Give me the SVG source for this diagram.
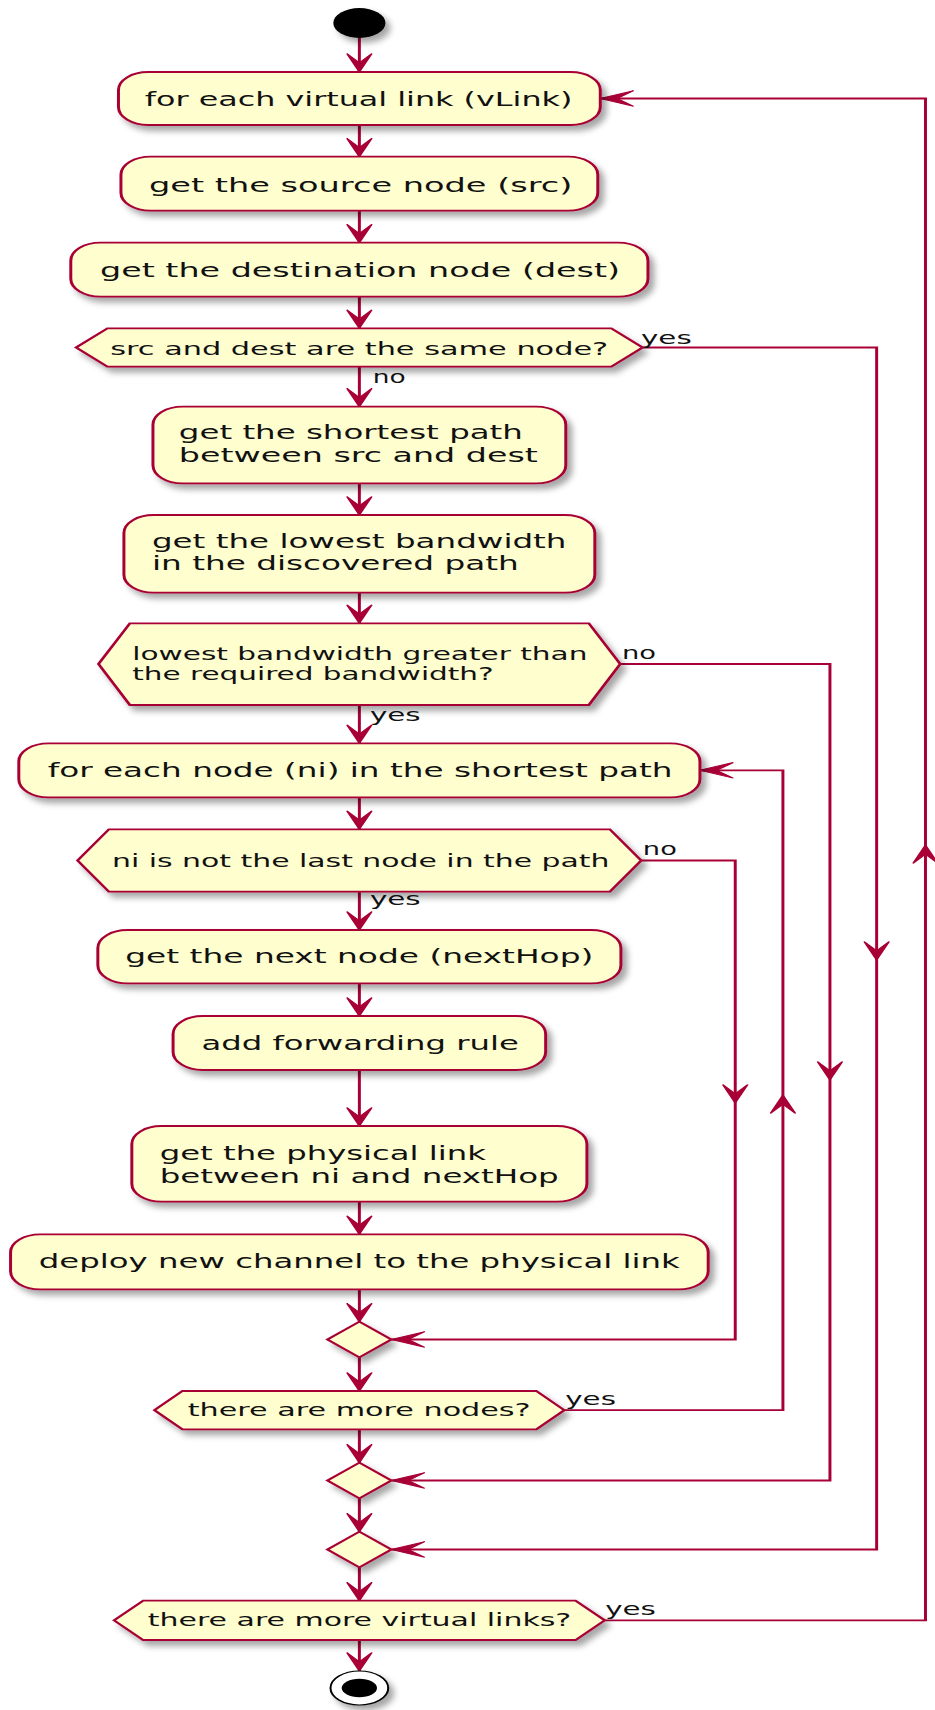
<svg xmlns="http://www.w3.org/2000/svg" xmlns:xlink="http://www.w3.org/1999/xlink" width="935" height="1710" viewBox="0 0 935 1710">
  <defs>
    <style>
      .box { fill:#FEFECE; stroke:#A80036; stroke-width:1.8; filter:url(#sh); }
      .ln { fill:none; stroke:#A80036; stroke-width:1.8; }
      .ah { fill:#A80036; stroke:#A80036; stroke-width:1; stroke-linejoin:miter; }
      .t { font-family:"DejaVu Sans", "Liberation Sans", sans-serif; font-size:19.5px; fill:#111; }
      .d { font-family:"DejaVu Sans", "Liberation Sans", sans-serif; font-size:18px; fill:#111; }
    </style>
    <filter id="sh" x="-20%" y="-30%" width="150%" height="170%">
      <feGaussianBlur in="SourceAlpha" stdDeviation="1.8 3"/>
      <feOffset dx="3" dy="5" result="b"/>
      <feFlood flood-color="#000" flood-opacity="0.35"/>
      <feComposite in2="b" operator="in"/>
      <feMerge><feMergeNode/><feMergeNode in="SourceGraphic"/></feMerge>
    </filter>
    <!-- arrowheads, tip at the origin -->
    <path id="adn" class="ah" d="M0,0 L-7.6,-18.4 L0,-9.2 L7.6,-18.4 Z"/>
    <path id="aup" class="ah" d="M0,0 L-7.6,18.4 L0,9.2 L7.6,18.4 Z"/>
    <path id="alt" class="ah" d="M0,0 L20.2,-7.8 L10.1,0 L20.2,7.8 Z"/>
  </defs>
  <rect width="935" height="1710" fill="#fff"/>
  <g transform="scale(1.65 1)">
    <g id="connectors">
      <path class="ln" d="M217.8,37 V72 M217.8,125 V156.7 M217.8,210.7 V242.7 M217.8,296.7 V328.3 M217.8,366.7 V406.7 M217.8,483.3 V515 M217.8,592.7 V623.3 M217.8,705 V743.3 M217.8,797.3 V829.3 M217.8,891.7 V930 M217.8,983.3 V1016 M217.8,1070 V1126 M217.8,1201.7 V1234.3 M217.8,1289.3 V1321.7 M217.8,1357.3 V1391 M217.8,1429.3 V1462.7 M217.8,1498.3 V1531.7 M217.8,1567.3 V1600.7 M217.8,1640 V1671"/>
      <use xlink:href="#adn" x="217.8" y="72"/>
      <use xlink:href="#adn" x="217.8" y="156.7"/>
      <use xlink:href="#adn" x="217.8" y="242.7"/>
      <use xlink:href="#adn" x="217.8" y="328.3"/>
      <use xlink:href="#adn" x="217.8" y="406.7"/>
      <use xlink:href="#adn" x="217.8" y="515"/>
      <use xlink:href="#adn" x="217.8" y="623.3"/>
      <use xlink:href="#adn" x="217.8" y="743.3"/>
      <use xlink:href="#adn" x="217.8" y="829.3"/>
      <use xlink:href="#adn" x="217.8" y="930"/>
      <use xlink:href="#adn" x="217.8" y="1016"/>
      <use xlink:href="#adn" x="217.8" y="1126"/>
      <use xlink:href="#adn" x="217.8" y="1234.3"/>
      <use xlink:href="#adn" x="217.8" y="1321.7"/>
      <use xlink:href="#adn" x="217.8" y="1391"/>
      <use xlink:href="#adn" x="217.8" y="1462.7"/>
      <use xlink:href="#adn" x="217.8" y="1531.7"/>
      <use xlink:href="#adn" x="217.8" y="1600.7"/>
      <use xlink:href="#adn" x="217.8" y="1671"/>

      <!-- same node: skip to outer merge -->
      <path class="ln" d="M389.5,347.5 H531.3 V1549.5 H237.2"/>
      <use xlink:href="#adn" x="531.3" y="960"/>
      <use xlink:href="#alt" x="237.2" y="1549.5"/>
      <!-- bandwidth too low -->
      <path class="ln" d="M375.9,664 H503 V1480.5 H237.2"/>
      <use xlink:href="#adn" x="503" y="1080"/>
      <use xlink:href="#alt" x="237.2" y="1480.5"/>
      <!-- last node in path -->
      <path class="ln" d="M388.6,860.5 H445.6 V1339.5 H237.2"/>
      <use xlink:href="#adn" x="445.6" y="1103"/>
      <use xlink:href="#alt" x="237.2" y="1339.5"/>
      <!-- loop over nodes -->
      <path class="ln" d="M342,1410.2 H474.5 V770.3 H424.2"/>
      <use xlink:href="#aup" x="474.5" y="1095"/>
      <use xlink:href="#alt" x="424.2" y="770.3"/>
      <!-- loop over virtual links -->
      <path class="ln" d="M366.5,1620.3 H560.9 V98.5 H363.8"/>
      <use xlink:href="#aup" x="560.9" y="845"/>
      <use xlink:href="#alt" x="363.8" y="98.5"/>

      <!-- branch labels -->
      <text class="d" x="388.5" y="344" textLength="30.7" lengthAdjust="spacingAndGlyphs">yes</text>
      <text class="d" x="225.9" y="383.3" textLength="19.9" lengthAdjust="spacingAndGlyphs">no</text>
      <text class="d" x="377" y="659.3" textLength="20.6" lengthAdjust="spacingAndGlyphs">no</text>
      <text class="d" x="224.2" y="720.7" textLength="30.7" lengthAdjust="spacingAndGlyphs">yes</text>
      <text class="d" x="389.6" y="855" textLength="20.6" lengthAdjust="spacingAndGlyphs">no</text>
      <text class="d" x="224.2" y="905" textLength="30.7" lengthAdjust="spacingAndGlyphs">yes</text>
      <text class="d" x="342.6" y="1405" textLength="30.7" lengthAdjust="spacingAndGlyphs">yes</text>
      <text class="d" x="366.8" y="1615" textLength="30.7" lengthAdjust="spacingAndGlyphs">yes</text>
    </g>

    <g id="start">
      <ellipse cx="217.8" cy="23" rx="15.8" ry="15" fill="#000" filter="url(#sh)"/>
    </g>

    <g id="forEachVLink">
      <rect class="box" x="71.8" y="72" width="292" height="53" rx="18" ry="18"/>
      <text class="t" x="87.8" y="106" textLength="259.1" lengthAdjust="spacingAndGlyphs">for each virtual link (vLink)</text>
    </g>
    <g id="getSrc">
      <rect class="box" x="73.3" y="156.7" width="289" height="54" rx="18" ry="18"/>
      <text class="t" x="90.3" y="191.7" textLength="256.6" lengthAdjust="spacingAndGlyphs">get the source node (src)</text>
    </g>
    <g id="getDest">
      <rect class="box" x="42.9" y="242.7" width="349.8" height="54" rx="18" ry="18"/>
      <text class="t" x="60.6" y="277.3" textLength="315.2" lengthAdjust="spacingAndGlyphs">get the destination node (dest)</text>
    </g>
    <g id="sameNode">
      <polygon class="box" points="46.1,347.5 65.1,328.3 370.5,328.3 389.5,347.5 370.5,366.7 65.1,366.7"/>
      <text class="d" x="66.8" y="355" textLength="301.8" lengthAdjust="spacingAndGlyphs">src and dest are the same node?</text>
    </g>
    <g id="shortestPath">
      <rect class="box" x="92.7" y="406.7" width="250.2" height="76.6" rx="18" ry="18"/>
      <text class="t" x="108.4" y="439.3" textLength="208.5" lengthAdjust="spacingAndGlyphs">get the shortest path</text>
      <text class="t" x="108.4" y="461.7" textLength="217.6" lengthAdjust="spacingAndGlyphs">between src and dest</text>
    </g>
    <g id="lowestBandwidth">
      <rect class="box" x="75.1" y="515" width="285.4" height="77.7" rx="18" ry="18"/>
      <text class="t" x="92.1" y="548.3" textLength="251.2" lengthAdjust="spacingAndGlyphs">get the lowest bandwidth</text>
      <text class="t" x="92.1" y="570" textLength="222.3" lengthAdjust="spacingAndGlyphs">in the discovered path</text>
    </g>
    <g id="bandwidthCheck">
      <polygon class="box" points="59.7,664 78.7,623.3 356.9,623.3 375.9,664 356.9,705 78.7,705"/>
      <text class="d" x="80.2" y="660" textLength="275.8" lengthAdjust="spacingAndGlyphs">lowest bandwidth greater than</text>
      <text class="d" x="80.2" y="680" textLength="219" lengthAdjust="spacingAndGlyphs">the required bandwidth?</text>
    </g>
    <g id="forEachNode">
      <rect class="box" x="11.4" y="743.3" width="412.8" height="54" rx="18" ry="18"/>
      <text class="t" x="28.9" y="776.7" textLength="378.7" lengthAdjust="spacingAndGlyphs">for each node (ni) in the shortest path</text>
    </g>
    <g id="notLastNode">
      <polygon class="box" points="47,860.5 66,829.3 369.6,829.3 388.6,860.5 369.6,891.7 66,891.7"/>
      <text class="d" x="67.9" y="866.7" textLength="301.5" lengthAdjust="spacingAndGlyphs">ni is not the last node in the path</text>
    </g>
    <g id="nextHop">
      <rect class="box" x="59.3" y="930" width="317" height="53.3" rx="18" ry="18"/>
      <text class="t" x="75.9" y="963.3" textLength="283.7" lengthAdjust="spacingAndGlyphs">get the next node (nextHop)</text>
    </g>
    <g id="addRule">
      <rect class="box" x="104.9" y="1016" width="225.8" height="54" rx="18" ry="18"/>
      <text class="t" x="122.1" y="1050" textLength="192.3" lengthAdjust="spacingAndGlyphs">add forwarding rule</text>
    </g>
    <g id="physicalLink">
      <rect class="box" x="79.9" y="1126" width="275.8" height="75.7" rx="18" ry="18"/>
      <text class="t" x="96.8" y="1160" textLength="197.7" lengthAdjust="spacingAndGlyphs">get the physical link</text>
      <text class="t" x="96.8" y="1182.7" textLength="241.8" lengthAdjust="spacingAndGlyphs">between ni and nextHop</text>
    </g>
    <g id="deployChannel">
      <rect class="box" x="6.4" y="1234.3" width="422.8" height="55" rx="18" ry="18"/>
      <text class="t" x="23.5" y="1268.3" textLength="388.5" lengthAdjust="spacingAndGlyphs">deploy new channel to the physical link</text>
    </g>
    <g id="merge1">
      <polygon class="box" points="217.8,1321.7 237.2,1339.5 217.8,1357.3 198.4,1339.5"/>
    </g>
    <g id="moreNodes">
      <polygon class="box" points="93.6,1410.2 110.6,1391 325,1391 342,1410.2 325,1429.3 110.6,1429.3"/>
      <text class="d" x="113.8" y="1416" textLength="207.8" lengthAdjust="spacingAndGlyphs">there are more nodes?</text>
    </g>
    <g id="merge2">
      <polygon class="box" points="217.8,1462.7 237.2,1480.5 217.8,1498.3 198.4,1480.5"/>
    </g>
    <g id="merge3">
      <polygon class="box" points="217.8,1531.7 237.2,1549.5 217.8,1567.3 198.4,1549.5"/>
    </g>
    <g id="moreVLinks">
      <polygon class="box" points="69.1,1620.3 86.8,1600.7 348.8,1600.7 366.5,1620.3 348.8,1640 86.8,1640"/>
      <text class="d" x="89.6" y="1626" textLength="256.6" lengthAdjust="spacingAndGlyphs">there are more virtual links?</text>
    </g>
    <g id="stop">
      <ellipse cx="217.8" cy="1688" rx="17.5" ry="17" fill="#fff" stroke="#000" stroke-width="1.2" filter="url(#sh)"/>
      <ellipse cx="217.8" cy="1688" rx="10.7" ry="9.2" fill="#000"/>
    </g>
  </g>
</svg>
